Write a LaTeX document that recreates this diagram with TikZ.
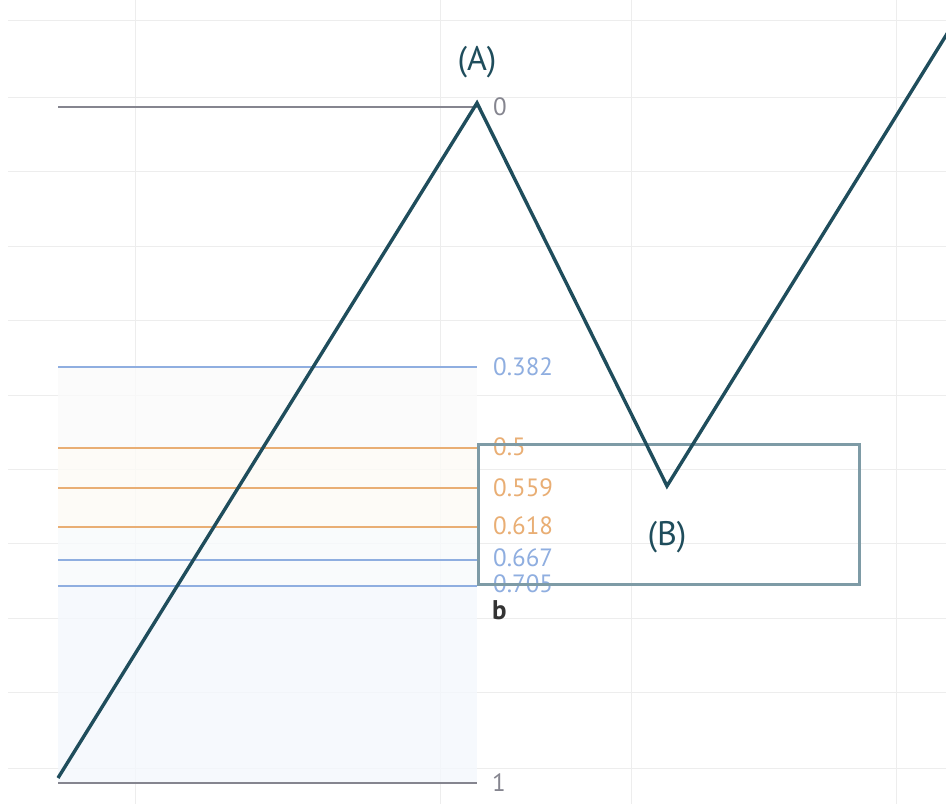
\documentclass[tikz,border=0pt]{standalone}
\usepackage{fontspec}
\setmainfont{PT Sans}
\begin{document}
\begin{tikzpicture}[x=1pt,y=-1pt,
  grid/.style={draw=black!7,line width=1pt},
  lvlblue/.style={draw=blueL,line width=1.4pt},
  lvlorange/.style={draw=orangeL,line width=1.4pt},
  lvlgray/.style={draw=grayL,line width=1.8pt},
  wave/.style={draw=waveC,line width=3.4pt,line join=miter},
  lab/.style={anchor=west,inner sep=0pt,font=\fontsize{25}{27}\selectfont},
  pt/.style={inner sep=0pt,text=waveC,font=\fontsize{34}{36}\selectfont}]
\definecolor{waveC}{HTML}{1F4D5C}
\definecolor{blueL}{HTML}{8FAEE0}
\definecolor{orangeL}{HTML}{E9AE74}
\definecolor{grayL}{HTML}{85858F}
\definecolor{boxC}{HTML}{7E9BA6}
\definecolor{zoneA}{HTML}{FAFAFA}
\definecolor{zoneB}{HTML}{FDFBF6}
\definecolor{zoneC}{HTML}{F8FAFC}
\definecolor{zoneD}{HTML}{F4F8FD}
\useasboundingbox (0,0) rectangle (946,804);
\fill[white] (0,0) rectangle (946,804);
% background grid
\foreach \y in {20,97,171,246,320,395,469,543,618,692,768}
  \draw[grid] (8,\y) -- (946,\y);
\foreach \x in {135,440,631,896}
  \draw[grid] (\x,0) -- (\x,804);
% shaded zones
\fill[zoneA,opacity=0.8] (58,367) rectangle (477,448);
\fill[zoneB,opacity=0.8] (58,448) rectangle (477,527);
\fill[zoneC,opacity=0.8] (58,527) rectangle (477,586);
\fill[zoneD,opacity=0.8] (58,586) rectangle (477,783);
% levels
\draw[lvlgray] (58,107) -- (477,107);
\draw[lvlgray] (58,783) -- (477,783);
\draw[lvlblue] (58,367) -- (477,367);
\draw[lvlorange] (58,448) -- (477,448);
\draw[lvlorange] (58,488) -- (477,488);
\draw[lvlorange] (58,527) -- (477,527);
\draw[lvlblue] (58,560) -- (477,560);
\draw[lvlblue] (58,586) -- (477,586);
% labels
\node[lab,text=grayL] (l0) at (493,107) {0};
\node[lab,text=grayL] (l1) at (492,783) {1};
\node[lab,text=blueL] (l382) at (493,367) {0.382};
\node[lab,text=orangeL] (l5) at (493,447) {0.5};
\node[lab,text=orangeL] (l559) at (493,488) {0.559};
\node[lab,text=orangeL] (l618) at (493,526) {0.618};
\node[lab,text=blueL] (l667) at (493,558) {0.667};
\node[lab,text=blueL] (l705) at (493,584) {0.705};
\node[lab,text=black!80,font=\bfseries\fontsize{27}{29}\selectfont] (lb) at (492,610) {b};
% box
\node[draw=boxC,line width=2.6pt,minimum width=381pt,minimum height=140pt,inner sep=0pt,anchor=north west] (box) at (477,443) {};
% wave
\coordinate (S) at (58,778);
\coordinate (A) at (477,103);
\coordinate (B) at (667,486);
\coordinate (E) at (950,29);
\draw[wave] (S) -- (A) -- (B) -- (E);
\node[pt] (la) at (477,62) {(A)};
\node[pt] (lbb) at (667,537) {(B)};
\end{tikzpicture}
\end{document}
